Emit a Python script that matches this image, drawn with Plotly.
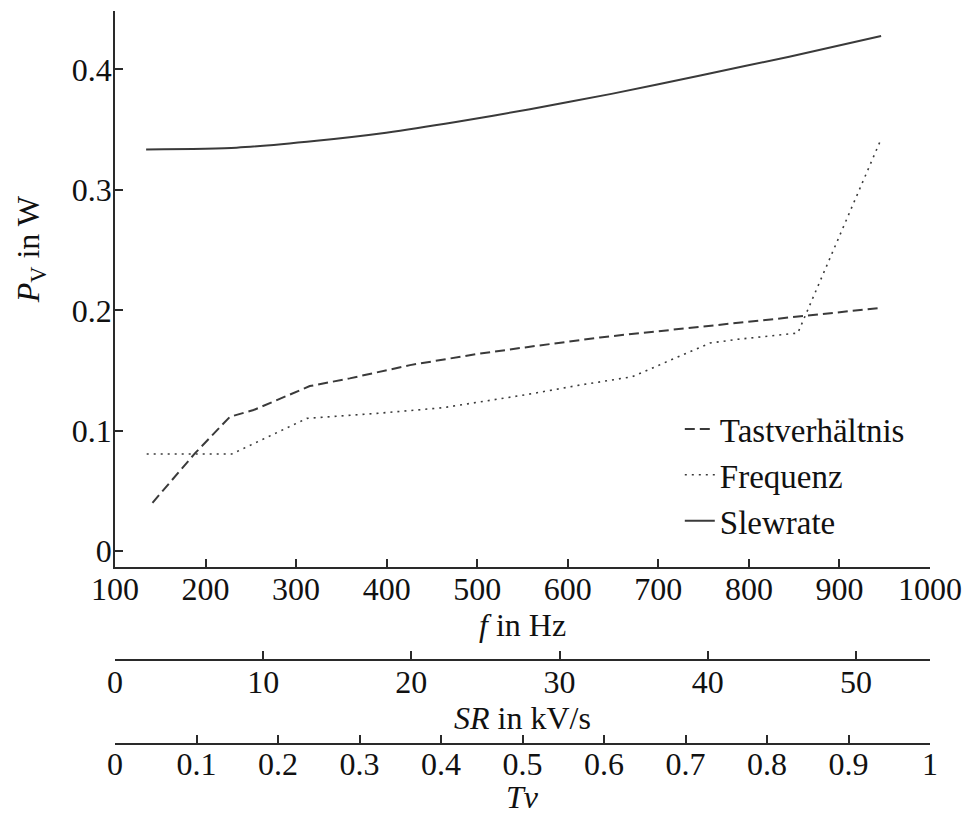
import plotly.graph_objects as go

# ---------------- data ----------------
# Frequenz: loss vs switching frequency f in Hz
freq_f = [135, 229, 312, 389, 462, 556, 613, 671, 757, 786, 854, 945]
freq_p = [0.0807, 0.0807, 0.1103, 0.1144, 0.1191, 0.1302, 0.1379, 0.1448, 0.1728, 0.1758, 0.1811, 0.3404]

# Slewrate: loss vs slew rate SR in kV/s
sr_sr = [2.1, 8.2, 13.6, 18.3, 23.0, 28.0, 33.5, 39.5, 45.5, 51.7]
sr_p = [0.3335, 0.3350, 0.3408, 0.3475, 0.3563, 0.3670, 0.3797, 0.3950, 0.4106, 0.4278]

# Tastverhältnis: loss vs duty cycle Tv
tv_tv = [0.046, 0.098, 0.141, 0.170, 0.239, 0.288, 0.362, 0.444, 0.503, 0.595, 0.718, 0.840, 0.941]
tv_p = [0.0402, 0.0812, 0.1116, 0.1172, 0.1371, 0.1435, 0.1545, 0.1637, 0.1692, 0.1775, 0.1863, 0.1952, 0.2021]

f_ticks = [100, 200, 300, 400, 500, 600, 700, 800, 900, 1000]
sr_ticks = [0, 10, 20, 30, 40, 50]
sr_ticktext = ["0", "10", "20", "30", "40", "50"]
tv_ticks = [0, 0.1, 0.2, 0.3, 0.4, 0.5, 0.6, 0.7, 0.8, 0.9, 1]
tv_ticktext = ["0", "0.1", "0.2", "0.3", "0.4", "0.5", "0.6", "0.7", "0.8", "0.9", "1"]
y_ticks = [0, 0.1, 0.2, 0.3, 0.4]
y_ticktext = ["0", "0.1", "0.2", "0.3", "0.4"]

FONT = "Liberation Serif"
LINE = "#3a3a3a"
AX = "#2a2a2a"
TXT = "#111111"
FS = 32

fig = go.Figure()
fig.add_trace(go.Scatter(x=tv_tv, y=tv_p, xaxis="x3", yaxis="y", mode="lines",
                         name="Tastverhältnis",
                         line=dict(color=LINE, width=2, dash="10px,5px")))
fig.add_trace(go.Scatter(x=freq_f, y=freq_p, xaxis="x", yaxis="y", mode="lines",
                         name="Frequenz",
                         line=dict(color=LINE, width=1.6, dash="2px,5px")))
fig.add_trace(go.Scatter(x=sr_sr, y=sr_p, xaxis="x2", yaxis="y", mode="lines",
                         name="Slewrate",
                         line=dict(color=LINE, width=2, shape="spline", smoothing=0.6)))

axis_common = dict(showline=True, linecolor=AX, linewidth=1.5, ticks="inside",
                   ticklen=8, tickwidth=1.5, tickcolor=AX, showgrid=False,
                   zeroline=False, automargin=False,
                   tickfont=dict(family=FONT, size=FS, color=TXT))

fig.update_layout(
    width=966, height=816,
    margin=dict(l=115, r=36, t=11, b=72),
    paper_bgcolor="white", plot_bgcolor="white",
    font=dict(family=FONT, size=FS, color=TXT),
    showlegend=True,
    legend=dict(x=0.693, y=0.468, xanchor="left", yanchor="top",
                bgcolor="rgba(0,0,0,0)", borderwidth=0,
                font=dict(family=FONT, size=33, color=TXT), tracegroupgap=0),
    xaxis=dict(range=[100, 1000], tickvals=f_ticks, domain=[0, 1], anchor="y",
               ticklabelstandoff=-7, **axis_common),
    xaxis2=dict(range=[0, 55], tickvals=sr_ticks, ticktext=sr_ticktext, overlaying="x",
                anchor="free", position=0.1146, side="bottom",
                ticklabelstandoff=-6, **axis_common),
    xaxis3=dict(range=[0, 1], tickvals=tv_ticks, ticktext=tv_ticktext, overlaying="x",
                anchor="free", position=0.0, side="bottom",
                ticklabelstandoff=-8, **axis_common),
    yaxis=dict(range=[-0.0131, 0.4485], tickvals=y_ticks, ticktext=y_ticktext,
               domain=[0.2415, 1], anchor="x", ticklabelstandoff=-5, **axis_common),
)

title_font = dict(family=FONT, size=FS, color=TXT)
# axis titles (placed below each axis)
fig.add_annotation(text="<i>f</i> in Hz", xref="paper", yref="paper", x=0.5, y=0.1623,
                   xanchor="center", yanchor="middle", showarrow=False, font=title_font)
fig.add_annotation(text="<i>SR</i> in kV/s", xref="paper", yref="paper", x=0.5, y=0.0355,
                   xanchor="center", yanchor="middle", showarrow=False, font=title_font)
fig.add_annotation(text="<i>Tv</i>", xref="paper", yref="paper", x=0.5, y=-0.0725,
                   xanchor="center", yanchor="middle", showarrow=False, font=title_font)
fig.add_annotation(text="<i>P</i><sub>V</sub> in W", xref="paper", yref="paper",
                   x=-0.131, y=0.751, textangle=-90, showarrow=False, font=title_font)

fig.write_html("out.html")
